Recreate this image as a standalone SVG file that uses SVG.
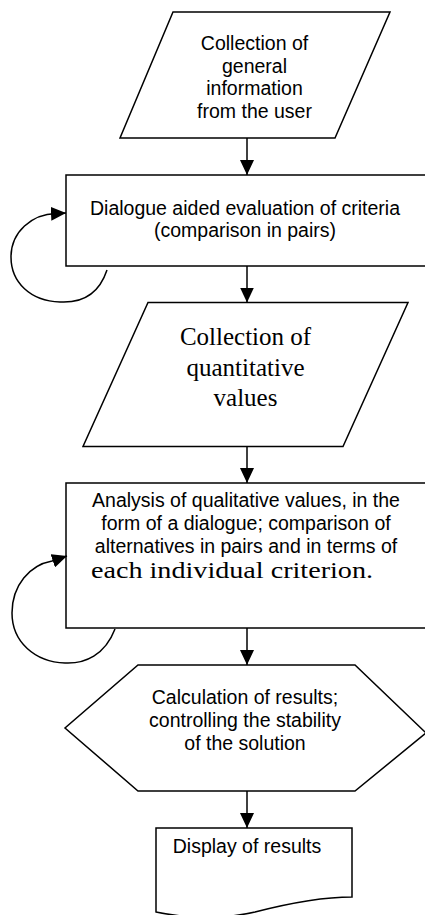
<svg xmlns="http://www.w3.org/2000/svg" width="425" height="915" viewBox="0 0 425 915">
<defs>
<marker id="ah" markerWidth="15" markerHeight="14" refX="15" refY="7" orient="auto" markerUnits="userSpaceOnUse">
<path d="M0,0 L15,7 L0,14 Z" fill="#000"/>
</marker>
<style>
.shape{fill:#fff;stroke:#000;stroke-width:1.5}
.conn{fill:none;stroke:#000;stroke-width:1.5}
.sans{font-family:"Liberation Sans",Arial,sans-serif;font-size:19.5px;fill:#000;text-anchor:middle}
.serif{font-family:"Liberation Serif","Times New Roman",serif;font-size:25px;fill:#000;text-anchor:middle}
</style>
</defs>
<rect width="425" height="915" fill="#fff"/>
<g id="n1">
<polygon class="shape" points="173,12 390,12 335,138 120,138"/>
<text class="sans" x="254.5" y="50">Collection of</text>
<text class="sans" x="254.5" y="72.7">general</text>
<text class="sans" x="254.5" y="95.4">information</text>
<text class="sans" x="254.5" y="118">from the user</text>
</g>
<g id="n2">
<rect class="shape" x="66" y="175" width="362" height="91"/>
<text class="sans" x="245" y="215">Dialogue aided evaluation of criteria</text>
<text class="sans" x="245" y="237.3">(comparison in pairs)</text>
</g>
<g id="n3">
<polygon class="shape" points="148,302.5 408,302.5 343,446.5 83,446.5"/>
<text class="serif" x="245.5" y="345">Collection of</text>
<text class="serif" x="245.5" y="375.5">quantitative</text>
<text class="serif" x="245.5" y="406">values</text>
</g>
<g id="n4">
<rect class="shape" x="66" y="483" width="362" height="145"/>
<text class="sans" x="246" y="507.3">Analysis of qualitative values, in the</text>
<text class="sans" x="246" y="530">form of a dialogue; comparison of</text>
<text class="sans" x="246" y="553.3">alternatives in pairs and in terms of</text>
<text class="serif" x="232" y="578.3" style="font-size:24px" textLength="282" lengthAdjust="spacingAndGlyphs">each individual criterion.</text>
</g>
<g id="n5">
<polygon class="shape" points="138,665 355,665 426,733 355,791 138,791 65,728"/>
<text class="sans" x="245" y="704">Calculation of results;</text>
<text class="sans" x="245" y="726.7">controlling the stability</text>
<text class="sans" x="245" y="750">of the solution</text>
</g>
<g id="n6">
<path class="shape" d="M156,828 H352 V897 C320,897 290,903 255,912 C220,920 185,918 156,912 Z"/>
<text class="sans" x="247" y="853">Display of results</text>
</g>
<g id="connectors">
<line class="conn" x1="247" y1="138" x2="247" y2="175" marker-end="url(#ah)"/>
<line class="conn" x1="247" y1="266" x2="247" y2="302.5" marker-end="url(#ah)"/>
<line class="conn" x1="247" y1="446.5" x2="247" y2="483" marker-end="url(#ah)"/>
<line class="conn" x1="247" y1="628" x2="247" y2="665" marker-end="url(#ah)"/>
<line class="conn" x1="247" y1="791" x2="247" y2="828" marker-end="url(#ah)"/>
<path class="conn" d="M107,270 C98,297 78,303 60,302 C30,301 11,282 11,257 C11,232 32,214 56,213.5 L66,213" marker-end="url(#ah)"/>
<path class="conn" d="M115,629 C105,655 85,664 65,663 C35,662 12,642 12,613 C12,585 30,565 52,561 L67,556" marker-end="url(#ah)"/>
</g>
</svg>
